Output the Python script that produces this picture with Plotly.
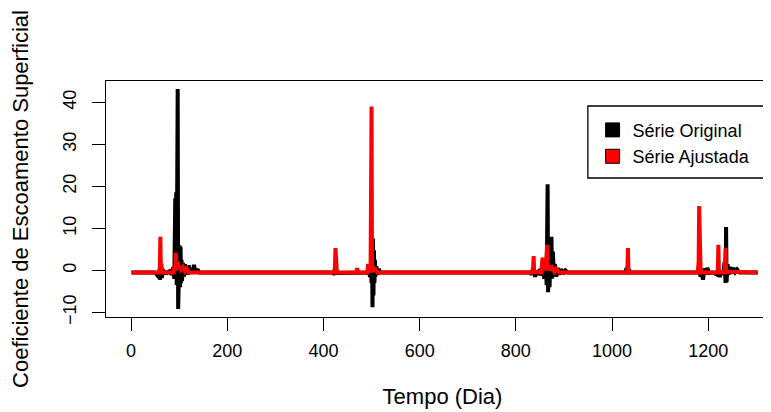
import plotly.graph_objects as go

# key points (day, value); baseline stretches are straight segments
original_days = [1, 50, 55, 58, 60, 62, 64, 66, 68, 70, 75, 80, 85, 88, 90, 91, 92, 93, 94, 95, 96, 97, 98, 99,
                 100, 101, 102, 103, 104, 105, 106, 108, 110, 112, 114, 116, 118, 120, 122, 125, 128, 131, 134,
                 138, 142,
                 420, 423, 426, 428, 495, 497, 499, 500, 501, 502, 503, 504, 505, 506, 507, 508, 510, 512, 515, 518,
                 830, 833, 836, 840, 843, 846, 850, 853, 856, 859, 862, 864, 866, 867, 869, 870, 872, 874, 875, 877,
                 879, 881, 884, 887, 890, 894, 898, 903, 908,
                 1028, 1030, 1032, 1035, 1038,
                 1178, 1181, 1184, 1186, 1189, 1192, 1195, 1198, 1202, 1210, 1218, 1221, 1224, 1227, 1231, 1234,
                 1236, 1237, 1238, 1240, 1242, 1245, 1248, 1252, 1256, 1260, 1265, 1303]
original_vals = [-0.5, -0.5, -1.2, -0.3, -2.2, -0.5, -1.8, 0.3, -1.0, -0.4, -0.6, -0.2, -1.0, 0.8, -2.0, 12.0, 17.2,
                 -1.5, 18.6, -3.5, 9.0, 43.2, -9.2, 5.5, -6.0, 6.0, -4.0, 5.6, -3.0, 2.5, -2.5, 1.8, -1.5, 1.5,
                 -0.8, 0.5, -1.0, 1.2, -0.5, 0.6, -0.8, 1.3, -0.6, 0.3, -0.5,
                 -0.5, -1.0, 0.5, -0.6, -0.5, -1.5, 1.0, -3.0, 4.0, -8.8, 7.6, -6.0, 4.8, -3.0, 2.5, -1.5, 1.0,
                 -1.0, 0.3, -0.5,
                 -0.5, -1.0, 0.5, -1.5, -0.3, -1.0, 0.3, -1.2, 1.5, -2.0, 3.0, -3.5, 20.5, -5.2, 4.0, -4.0, 3.0,
                 8.0, -2.0, 4.5, -1.5, 1.5, -1.5, 0.6, -1.0, 0.3, -0.8, 0.0, -0.5,
                 -0.5, 0.6, -0.9, 0.2, -0.5,
                 -0.5, 0.8, -1.5, -0.3, -2.2, 0.5, -1.0, 0.6, -0.6, -0.5, -1.0, 0.5, -1.6, -0.3, -1.0, 2.0,
                 -3.0, 10.3, -2.8, 1.5, -1.0, 0.8, -0.8, 0.6, -0.4, 0.2, -0.5, -0.5]

adjusted_days = [1, 58, 60, 61, 62, 63, 65, 88, 90, 92, 93, 94, 95, 97, 99, 101, 104, 108, 112, 116, 120,
                 422, 424, 425, 426, 428, 468, 470, 472, 491, 493, 494, 498, 500, 501, 503, 505, 508, 512,
                 834, 836, 837, 838, 853, 855, 856, 857, 860, 862, 865, 866, 869, 872, 876, 880, 884, 890,
                 1030, 1032, 1033, 1034, 1036,
                 1178, 1180, 1181, 1182, 1183, 1184, 1186, 1219, 1220, 1221, 1222, 1224, 1234, 1236, 1237, 1239,
                 1303]
adjusted_vals = [-0.5, -0.5, 1.0, 8.0, -0.3, 1.5, -0.5, -0.5, 1.0, -0.2, 4.2, 1.2, 0.3, 2.0, 0.5, 1.0, 0.2, 0.8,
                 -0.2, 0.4, -0.5,
                 -0.5, 1.0, 5.3, 0.0, -0.5, -0.5, 0.5, -0.5, -0.5, 1.5, -0.3, 0.5, 39.0, -0.5, 1.0, 0.0, 0.5, -0.5,
                 -0.5, 1.0, 3.4, -0.3, -0.5, 2.5, 3.0, 0.0, 1.0, 0.0, 6.1, 0.5, 1.2, 0.0, 0.6, -0.3, 0.4, -0.5,
                 -0.5, 1.0, 5.3, 0.0, -0.5,
                 -0.5, 2.0, 15.3, 10.0, 2.0, 0.3, -0.5, -0.5, 1.0, 6.1, 0.0, -0.5, -0.5, 5.3, 0.0, -0.3,
                 -0.5]

x_ticks = [0, 200, 400, 600, 800, 1000, 1200]
y_ticks = [-10, 0, 10, 20, 30, 40]

FONT = 'Liberation Sans, Arial, sans-serif'

fig = go.Figure()
fig.add_trace(go.Scatter(x=original_days, y=original_vals, mode='lines', showlegend=False,
                         line=dict(color='black', width=4)))
fig.add_trace(go.Scatter(x=adjusted_days, y=adjusted_vals, mode='lines', showlegend=False,
                         line=dict(color='#ff0000', width=4)))
# legend-only entries with filled squares like R's fill legend
fig.add_trace(go.Scatter(x=[None], y=[None], mode='markers', name='Série Original',
                         marker=dict(symbol='square', size=14, color='black', line=dict(color='black', width=1))))
fig.add_trace(go.Scatter(x=[None], y=[None], mode='markers', name='Série Ajustada',
                         marker=dict(symbol='square', size=14, color='#ff0000', line=dict(color='black', width=1))))

fig.update_layout(
    width=771, height=412,
    margin=dict(l=98, r=0, t=73, b=103),
    plot_bgcolor='white', paper_bgcolor='white',
    font=dict(family=FONT, size=18, color='black'),
    legend=dict(x=0.723, y=0.87, xanchor='left', yanchor='top', bgcolor='rgba(0,0,0,0)',
                borderwidth=0, font=dict(size=18)),
    shapes=[dict(type='rect', xref='paper', yref='paper', x0=0.716, x1=0.9837, y0=0.589, y1=0.894,
                 line=dict(color='black', width=1.3), fillcolor='rgba(0,0,0,0)', layer='above')],
)
fig.update_xaxes(range=[-52, 1347], tickvals=x_ticks, ticks='outside', ticklen=13, tickwidth=1.3,
                 tickcolor='black', showgrid=False, zeroline=False, showline=True, linecolor='black',
                 linewidth=1.3, mirror=True, ticklabelstandoff=4,
                 title=dict(text='Tempo (Dia)', standoff=28))
fig.update_yaxes(range=[-11.1, 45.1], tickvals=y_ticks, ticks='outside', ticklen=13, tickwidth=1.3,
                 tickcolor='black', showgrid=False, zeroline=False, showline=True, linecolor='black',
                 linewidth=1.3, tickangle=-90, ticklabelstandoff=9,
                 title=dict(text='Coeficiente de Escoamento Superficial', standoff=24))

fig.write_html('out.html')
